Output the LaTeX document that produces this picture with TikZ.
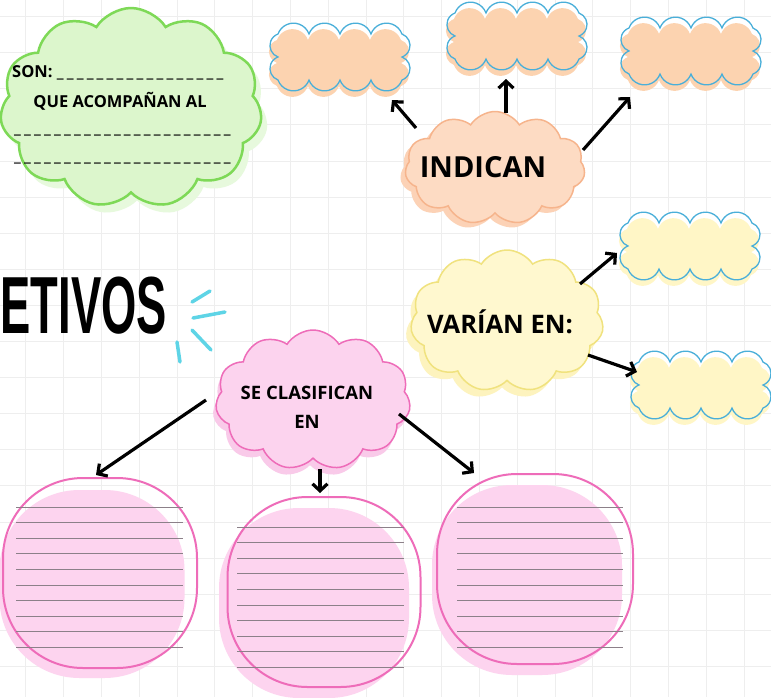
\documentclass[tikz,border=0pt]{standalone}
\usepackage{fontspec}
\setmainfont{Open Sans}
\newfontfamily\titlefont{Liberation Sans}
\usetikzlibrary{shapes.symbols}
\usetikzlibrary{arrows.meta}

\definecolor{gridgray}{HTML}{EEEEEE}
\definecolor{greenline}{HTML}{7ED957}
\definecolor{greenfill}{HTML}{DCF6CC}
\definecolor{greenshade}{HTML}{E7F9DD}
\definecolor{peachfill}{HTML}{FCD3B0}
\definecolor{peachlight}{HTML}{FDDBC3}
\definecolor{peachline}{HTML}{F6B48C}
\definecolor{peachshade}{HTML}{FCD2B6}
\definecolor{boxblue}{HTML}{4AAFD9}
\definecolor{yellowfill}{HTML}{FFF6C6}
\definecolor{yellowlight}{HTML}{FFF8CF}
\definecolor{yellowline}{HTML}{F0E27E}
\definecolor{yellowshade}{HTML}{FDF3BE}
\definecolor{pinkfill}{HTML}{FDD4EF}
\definecolor{pinkline}{HTML}{EE6CB9}
\definecolor{pinklight}{HTML}{FCD3EE}
\definecolor{pinkshade}{HTML}{F9CAE9}
\definecolor{rulegray}{HTML}{8C8089}
\definecolor{sparkcyan}{HTML}{5ED4E6}

\tikzset{
    gridline/.style={draw=gridgray, line width=0.8},
    puff/.style={cloud, cloud puffs=11, cloud puff arc=115, cloud ignores aspect, inner sep=0},
    boxline/.style={draw=boxblue, line width=1.3},
    arrowline/.style={draw=black, line width=3.2, -{Straight Barb[length=7pt,width=15pt]}},
    pinkbox/.style={rectangle, rounded corners=80, draw=pinkline, line width=2},
    pinkbg/.style={rectangle, rounded corners=80, fill=pinkfill},
    ruled/.style={draw=rulegray, line width=0.8},
    spark/.style={draw=sparkcyan, line width=3.5, line cap=round},
    smalltext/.style={inner sep=0, font=\bfseries\fontsize{16.5}{20}\selectfont},
    midtext/.style={inner sep=0, font=\bfseries\fontsize{18.5}{29}\selectfont},
    bigtext/.style={inner sep=0, font=\bfseries\fontsize{29}{36}\selectfont}
}

\newcommand{\blanks}[1]{\foreach \j in {1,...,#1}{\_\kern3.2pt}}
\newcommand{\bumps}{%
  \foreach \t in {1,...,4} { arc[start angle=200, end angle=340, radius=16.49] }
  \foreach \t in {1,2} { arc[start angle=-70, end angle=70, radius=12.24] }
  \foreach \t in {1,...,4} { arc[start angle=20, end angle=160, radius=16.49] }
  \foreach \t in {1,2} { arc[start angle=110, end angle=250, radius=12.24] } -- cycle}
\newcommand{\bumpbox}[4]{%
  \fill[white] (#3-62,#4-23) \bumps;
  \fill[#2] (#3-63,#4-17) \bumps;
  \draw[boxline] (#3-62,#4-23) \bumps;
  \node[minimum width=140, minimum height=68] (#1) at (#3,#4) {};
}

\begin{document}
\begin{tikzpicture}[x=1pt, y=-1pt]
\useasboundingbox (0,0) rectangle (771,697);
\clip (0,0) rectangle (771,697);
\fill[white] (0,0) rectangle (771,697);

% grid paper
\foreach \i in {0,...,19}
  \draw[gridline] (25.8+37.8*\i,0) -- (25.8+37.8*\i,697);
\foreach \j in {0,...,18}
  \draw[gridline] (0,16.5+36.1*\j) -- (771,16.5+36.1*\j);

% green note
\node[puff, fill=greenshade, minimum width=262, minimum height=200] (sonbg) at (137,116) {};
\node[puff, fill=greenfill, draw=greenline, line width=2.5, minimum width=262, minimum height=200] (sonpuff) at (131,108) {};
\node[anchor=base west, smalltext] (son) at (12,77) {SON: \blanks{17}};
\node[smalltext] (que) at (120,101) {QUE ACOMPAÑAN AL};
\node[anchor=base west, smalltext] (blanka) at (14,133) {\blanks{22}};
\node[anchor=base west, smalltext] (blankb) at (14,161) {\blanks{22}};

% title
\node[anchor=east, inner sep=0, xscale=0.56, font=\titlefont\bfseries\fontsize{81}{81}\selectfont] (title) at (167,306) {ETIVOS};
\draw[spark] (192,302) -- (210,291);
\draw[spark] (193,318) -- (225,312);
\draw[spark] (192,330) -- (211,350);
\draw[spark] (177,342) -- (180,362);

% scalloped boxes
\bumpbox{o1}{peachfill}{340}{57}
\bumpbox{o2}{peachfill}{517}{36}
\bumpbox{o3}{peachfill}{691}{51}
\bumpbox{y1}{yellowfill}{690}{246}
\bumpbox{y2}{yellowfill}{701}{385}

% clouds
\node[puff, fill=peachshade, minimum width=180, minimum height=113] (indicanbg) at (490,173) {};
\node[puff, fill=peachlight, draw=peachline, line width=1.5, minimum width=180, minimum height=113] (indican) at (495,168) {};
\node[bigtext] (indicanlbl) at (483,167) {INDICAN};

\node[puff, fill=yellowshade, minimum width=193, minimum height=142] (varianbg) at (502,328) {};
\node[puff, fill=yellowlight, draw=yellowline, line width=1.5, minimum width=193, minimum height=142] (varian) at (507,321) {};
\node[inner sep=0, font=\bfseries\fontsize{25.5}{32}\selectfont] (varianlbl) at (500,322) {VARÍAN EN:};

\node[puff, fill=pinkshade, minimum width=195, minimum height=140] (clasifbg) at (310,407) {};
\node[puff, fill=pinklight, draw=pinkline, line width=1.5, minimum width=195, minimum height=140] (clasif) at (313,400) {};
\node[midtext, align=center] (clasiflbl) at (307,407) {SE CLASIFICAN\\EN};

% lined boxes
\node[pinkbg, minimum width=185, minimum height=188] (c1bg) at (92,584) {};
\node[pinkbox, minimum width=194, minimum height=190] (c1) at (100,573) {};
\node[pinkbg, minimum width=190, minimum height=190] (c2bg) at (314,603) {};
\node[pinkbox, minimum width=193, minimum height=190] (c2) at (324,592) {};
\node[pinkbg, minimum width=190, minimum height=190] (c3bg) at (527,580) {};
\node[pinkbox, minimum width=196, minimum height=190] (c3) at (535,569) {};
\foreach \k in {0,...,9} {
  \draw[ruled] ([shift={(-84,-66+15.6*\k)}]c1.center) -- ([shift={(83,-66+15.6*\k)}]c1.center);
  \draw[ruled] ([shift={(-87,-65+15.6*\k)}]c2.center) -- ([shift={(80,-65+15.6*\k)}]c2.center);
  \draw[ruled] ([shift={(-78,-62+15.6*\k)}]c3.center) -- ([shift={(88,-62+15.6*\k)}]c3.center);
}

% arrows
\draw[arrowline] ([shift={(-79,-40)}]indican.center) -- ([shift={(52,43)}]o1.center);
\draw[arrowline] ([shift={(11,-55)}]indican.center) -- ([shift={(-11,43)}]o2.center);
\draw[arrowline] ([shift={(88,-18)}]indican.center) -- ([shift={(-61,46)}]o3.center);
\draw[arrowline] ([shift={(73,-37)}]varian.center) -- ([shift={(-73,7)}]y1.center);
\draw[arrowline] ([shift={(81,34)}]varian.center) -- ([shift={(-64,-13)}]y2.center);
\draw[arrowline] ([shift={(-107,0)}]clasif.center) -- ([shift={(-4,-98)}]c1.center);
\draw[arrowline] ([shift={(7,69)}]clasif.center) -- ([shift={(-4,-99)}]c2.center);
\draw[arrowline] ([shift={(86,14)}]clasif.center) -- ([shift={(-61,-96)}]c3.center);
\end{tikzpicture}
\end{document}
